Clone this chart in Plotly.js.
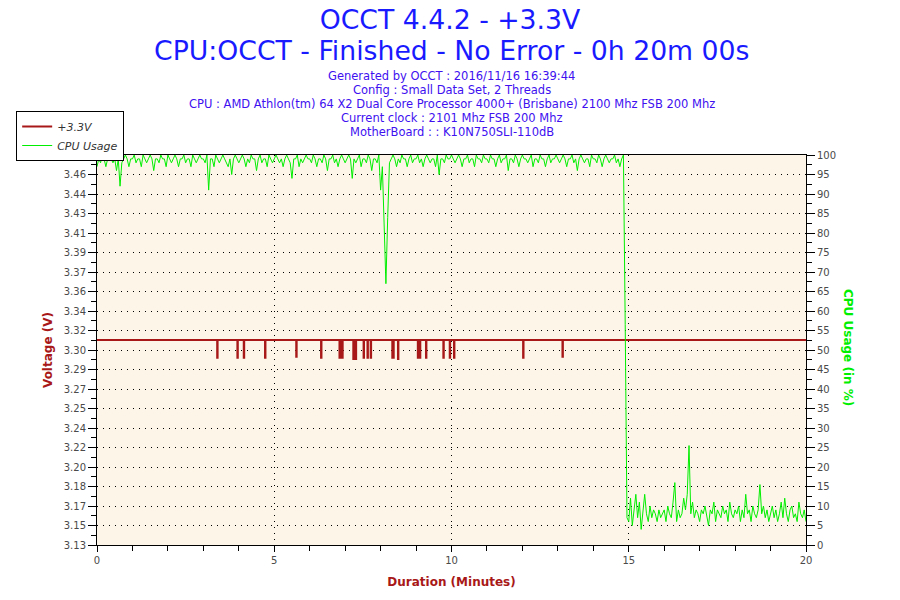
<!DOCTYPE html>
<html>
<head>
<meta charset="utf-8">
<script src="https://cdn.plot.ly/plotly-3.0.1.min.js"></script>
<style>
html,body{margin:0;padding:0;background:#fff;}
#chart{width:900px;height:600px;}
</style>
</head>
<body>
<div id="chart"></div>
<script>
// ---- data ----
var seriesNames = ['+3.3V', 'CPU Usage'];

// +3.3V voltage (step samples: time in minutes, value in volts)
var voltTime = [0,
  3.39, 3.402, 3.96, 3.972, 4.14, 4.152, 4.74, 4.752, 5.62, 5.632, 6.32, 6.332,
  6.84, 6.86, 6.865, 6.885, 6.89, 6.93,
  7.23, 7.25, 7.255, 7.28, 7.285, 7.31,
  7.52, 7.532, 7.63, 7.642, 7.72, 7.732,
  8.33, 8.345, 8.35, 8.37, 8.49, 8.502,
  9.05, 9.07, 9.075, 9.095, 9.10, 9.12,
  9.28, 9.292, 9.77, 9.782, 9.95, 9.962, 10.07, 10.082, 12.02, 12.032, 13.13, 13.142, 20];
var voltValue = [3.314,
  3.298, 3.314, 3.298, 3.314, 3.298, 3.314, 3.298, 3.314, 3.299, 3.314, 3.298, 3.314,
  3.298, 3.314, 3.298, 3.314, 3.298, 3.314,
  3.297, 3.314, 3.297, 3.314, 3.297, 3.314,
  3.298, 3.314, 3.298, 3.314, 3.298, 3.314,
  3.298, 3.314, 3.298, 3.314, 3.297, 3.314,
  3.298, 3.314, 3.298, 3.314, 3.298, 3.314,
  3.298, 3.314, 3.298, 3.314, 3.298, 3.314, 3.298, 3.314, 3.298, 3.314, 3.299, 3.314, 3.314];

// CPU usage (%), one sample every 0.05 minute from 0 to 20 min
var cpuStepMinutes = 0.05;
var cpuUsage = [
  97, 99, 98, 100, 99, 97, 99, 100, 99, 98, 99, 96, 99, 92, 98, 99, 100, 99, 97, 99,
  99, 100, 98, 99, 99, 97, 100, 99, 98, 99, 100, 99, 96, 99, 99, 98, 100, 99, 99, 97,
  100, 99, 98, 99, 100, 99, 97, 99, 99, 100, 98, 99, 99, 97, 100, 99, 98, 99, 100, 99,
  99, 98, 100, 91, 99, 99, 97, 100, 99, 98, 99, 100, 99, 98, 97, 99, 95, 99, 100, 99,
  98, 99, 100, 99, 97, 99, 98, 100, 99, 99, 96, 99, 100, 98, 99, 99, 97, 100, 99, 98,
  99, 100, 99, 98, 99, 97, 99, 100, 99, 98, 94, 99, 99, 100, 97, 99, 98, 99, 100, 99,
  99, 98, 100, 99, 97, 99, 99, 98, 100, 99, 96, 99, 99, 100, 98, 99, 97, 99, 100, 99,
  98, 99, 100, 99, 94, 99, 98, 99, 100, 97, 99, 99, 98, 100, 99, 96, 99, 99, 98, 100,
  91, 97, 83, 67, 84, 98, 99, 100, 99, 97, 99, 98, 100, 99, 99, 97, 99, 100, 98, 99,
  99, 100, 98, 99, 97, 99, 100, 99, 98, 99, 99, 97, 100, 95, 99, 99, 98, 100, 99, 99,
  100, 99, 98, 99, 100, 99, 97, 99, 99, 100, 98, 99, 99, 97, 100, 99, 99, 98, 100, 99,
  99, 98, 100, 99, 99, 97, 99, 100, 98, 99, 99, 100, 96, 99, 99, 98, 100, 99, 97, 99,
  100, 99, 99, 98, 99, 100, 97, 99, 99, 98, 100, 99, 99, 97, 99, 100, 98, 99, 99, 100,
  99, 98, 99, 100, 99, 97, 99, 99, 100, 98, 99, 96, 99, 100, 99, 98, 99, 99, 97, 100,
  99, 99, 98, 100, 99, 97, 99, 100, 99, 98, 99, 99, 100, 98, 99, 97, 99, 100, 56.5, 7,
  6, 12, 5, 10, 13, 7, 11, 4, 9, 13, 8, 6, 10, 7, 9, 8, 6, 9, 7, 8,
  9, 6, 10, 8, 7, 11, 16, 6, 9, 7, 8, 12, 9, 13, 25.5, 8, 11, 7, 9, 8,
  6, 9, 8, 10, 7, 5, 9, 8, 11, 6, 9, 8, 7, 10, 8, 9, 6, 11, 8, 7,
  9, 8, 10, 6, 9, 7, 13, 8, 9, 6, 10, 8, 7, 9, 15.5, 8, 10, 7, 9, 6,
  8, 10, 7, 9, 6, 8, 11, 7, 12, 8, 6, 9, 10, 7, 8, 6, 11, 8, 7, 9, 6
];

// axis tick labels
var xTickValues = [0, 5, 10, 15, 20];
var voltRange = [3.13, 3.48];
var voltTickLabels = ['3.13','3.15','3.17','3.18','3.20','3.22','3.24','3.25','3.27','3.29','3.30',
  '3.32','3.34','3.36','3.37','3.39','3.41','3.43','3.44','3.46','3.48'];
var cpuRange = [0, 100];

var titleLines = ['OCCT 4.4.2 - +3.3V', 'CPU:OCCT - Finished - No Error - 0h 20m 00s'];
var infoLines = [
  'Generated by OCCT : 2016/11/16 16:39:44',
  'Config : Small Data Set, 2 Threads',
  'CPU : AMD Athlon(tm) 64 X2 Dual Core Processor 4000+ (Brisbane) 2100 Mhz FSB 200 Mhz',
  'Current clock : 2101 Mhz FSB 200 Mhz',
  'MotherBoard : : K10N750SLI-110dB'
];

// ---- build ----
var cpuTime = cpuUsage.map(function (v, i) { return i * cpuStepMinutes; });
var voltTickVals = voltTickLabels.map(function (s, i) {
  return voltRange[0] + i * (voltRange[1] - voltRange[0]) / (voltTickLabels.length - 1);
});

var FONT = 'DejaVu Sans, Verdana, sans-serif';
var RED = '#a81818';
var GREEN = '#00ee00';
var PLOT_TOP = 155, PLOT_BOTTOM = 545, PLOT_H = 390;
function py(px) { return (PLOT_BOTTOM - px) / PLOT_H; }

var traces = [
  {
    x: voltTime, y: voltValue, name: seriesNames[0], type: 'scatter', mode: 'lines',
    line: {color: RED, width: 2, shape: 'hv'}, yaxis: 'y'
  },
  {
    x: cpuTime, y: cpuUsage, name: seriesNames[1], type: 'scatter', mode: 'lines',
    line: {color: GREEN, width: 1}, yaxis: 'y2'
  }
];

var tickFont = {family: FONT, size: 10, color: '#4a4a4a'};
var GRIDDASH = '1px,5px';

var annotations = [
  {
    text: titleLines[1], xref: 'paper', yref: 'paper', x: 0.5, y: py(50),
    xanchor: 'center', yanchor: 'middle', showarrow: false,
    font: {family: FONT, size: 26.7, color: '#1a1aff'}
  },
  {
    text: '<b>CPU Usage (in %)</b>', xref: 'paper', yref: 'paper',
    x: (848 - 97) / 709, y: py(348), xanchor: 'center', yanchor: 'middle',
    textangle: 90, showarrow: false,
    font: {family: FONT, size: 12, color: GREEN}
  }
];
var infoY = [76, 90.5, 104, 118, 132];
infoLines.forEach(function (s, i) {
  annotations.push({
    text: s, xref: 'paper', yref: 'paper', x: 0.5, y: py(infoY[i]),
    xanchor: 'center', yanchor: 'middle', showarrow: false,
    font: {family: FONT, size: 11.5, color: '#4010f0'}
  });
});

var layout = {
  width: 900, height: 600,
  paper_bgcolor: '#ffffff',
  plot_bgcolor: '#fdf6e8',
  margin: {l: 97, r: 94, t: PLOT_TOP, b: 600 - PLOT_BOTTOM, pad: 0},
  showlegend: true,
  title: {
    text: titleLines[0],
    font: {family: FONT, size: 26.7, color: '#1a1aff'},
    x: 0.5, xanchor: 'center', xref: 'container',
    y: 1 - 20 / 600, yanchor: 'middle', yref: 'container'
  },
  legend: {
    x: -0.114, y: py(111), xanchor: 'left', yanchor: 'top',
    bgcolor: '#ffffff', bordercolor: '#000', borderwidth: 1,
    font: {family: FONT, size: 11, color: '#333', style: 'italic'},
    tracegroupgap: 0
  },
  xaxis: {
    range: [0, 20], tickmode: 'array', tickvals: xTickValues,
    ticks: 'outside', ticklen: 6, tickcolor: '#000', tickwidth: 1,
    minor: {dtick: 1, ticks: 'outside', ticklen: 5, tickcolor: '#000', showgrid: false},
    showline: true, linecolor: '#000', linewidth: 1, mirror: true,
    showgrid: true, gridcolor: '#000', griddash: GRIDDASH, gridwidth: 1,
    zeroline: false, tickfont: tickFont,
    title: {text: '<b>Duration (Minutes)</b>', font: {family: FONT, size: 12, color: RED}, standoff: 12}
  },
  yaxis: {
    range: voltRange, tickmode: 'array', tickvals: voltTickVals, ticktext: voltTickLabels,
    ticks: 'outside', ticklen: 8, tickcolor: '#000',
    minor: {tickmode: 'linear', tick0: voltRange[0] + 0.00875, dtick: 0.0175, ticks: 'outside', ticklen: 5, tickcolor: '#000', showgrid: false},
    showline: true, linecolor: '#000', linewidth: 1,
    showgrid: true, gridcolor: '#000', griddash: GRIDDASH, gridwidth: 1,
    zeroline: false, tickfont: tickFont,
    title: {text: '<b>Voltage (V)</b>', font: {family: FONT, size: 12, color: RED}, standoff: 8}
  },
  yaxis2: {
    range: cpuRange, overlaying: 'y', side: 'right', dtick: 5, tick0: 0,
    ticks: 'outside', ticklen: 8, tickcolor: '#000',
    minor: {dtick: 2.5, ticks: 'outside', ticklen: 5, tickcolor: '#000', showgrid: false},
    showline: true, linecolor: '#000', linewidth: 1,
    showgrid: false, zeroline: false, tickfont: tickFont
  },
  annotations: annotations
};

Plotly.newPlot('chart', traces, layout, {displayModeBar: false, staticPlot: true});
</script>
</body>
</html>
